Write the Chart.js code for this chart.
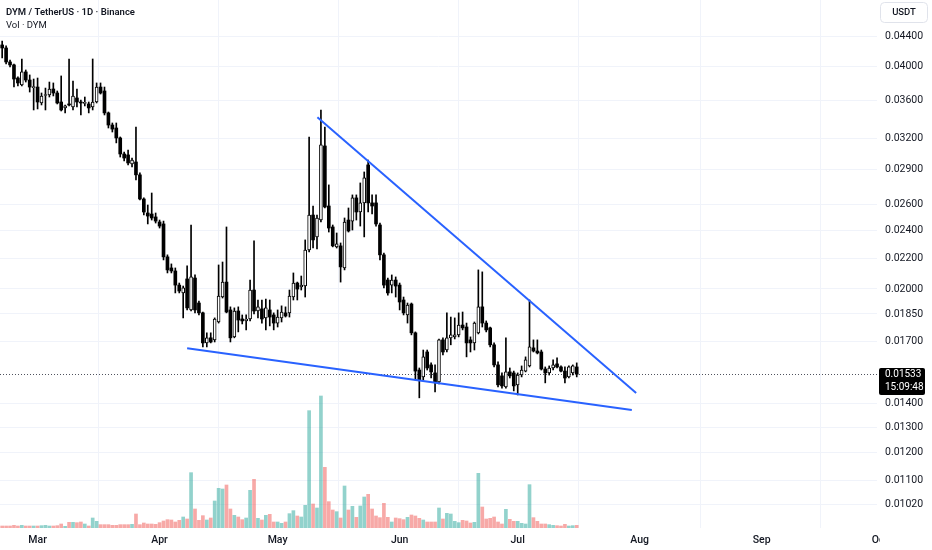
<!DOCTYPE html>
<html>
<head>
<meta charset="utf-8">
<script src="https://cdn.jsdelivr.net/npm/chart.js@4.4.1/dist/chart.umd.min.js"></script>
<style>
  html, body { margin: 0; padding: 0; background: #fff; }
  #wrap { width: 932px; height: 550px; position: relative; }
</style>
</head>
<body>
<div id="wrap"><canvas id="chart"></canvas></div>
<script>
// first candle = 20 Feb, counted in days after 1 Mar
const FIRST_DAY = -9;

const opens = [
  0.04279, 0.04239, 0.04058, 0.04021, 0.03860, 0.03777, 0.03934, 0.03836, 0.03747, 0.03753,
  0.03571, 0.03655, 0.03661, 0.03730, 0.03684, 0.03582, 0.03516, 0.03560, 0.03527, 0.03627,
  0.03582, 0.03566, 0.03560, 0.03527, 0.03582, 0.03753, 0.03707, 0.03462, 0.03334, 0.03303,
  0.03202, 0.03046, 0.03037, 0.02953, 0.02971, 0.02854, 0.02647, 0.02534, 0.02526, 0.02503,
  0.02464, 0.02449, 0.02210, 0.02135, 0.02115, 0.02024, 0.01975, 0.02063, 0.01873, 0.02069,
  0.01914, 0.01856, 0.01690, 0.01717, 0.01706, 0.01804, 0.01950, 0.02043, 0.01873, 0.01722,
  0.01867, 0.01821, 0.01810, 0.01821, 0.01993, 0.01867, 0.01879, 0.01827, 0.01873, 0.01844,
  0.01798, 0.01827, 0.01856, 0.01856, 0.01950, 0.02037, 0.02012, 0.02018, 0.02258, 0.02518,
  0.02352, 0.02479, 0.03123, 0.02590, 0.02426, 0.02280, 0.02287, 0.02135, 0.02479, 0.02471,
  0.02656, 0.02542, 0.02615, 0.02944, 0.02615, 0.02615, 0.02441, 0.02224, 0.02056, 0.02024,
  0.02056, 0.02024, 0.01932, 0.01844, 0.01908, 0.01744, 0.01553, 0.01520, 0.01643, 0.01578,
  0.01539, 0.01497, 0.01706, 0.01653, 0.01717, 0.01722, 0.01733, 0.01787, 0.01776, 0.01706,
  0.01690, 0.01744, 0.01891, 0.01798, 0.01771, 0.01680, 0.01578, 0.01525, 0.01473, 0.01544,
  0.01539, 0.01483, 0.01529, 0.01548, 0.01573, 0.01664, 0.01648, 0.01643, 0.01558, 0.01539,
  0.01563, 0.01583, 0.01568, 0.01548, 0.01520, 0.01539, 0.01568
];
const highs = [
  0.04332, 0.04266, 0.04083, 0.04033, 0.03873, 0.04096, 0.03958, 0.03897, 0.03848, 0.03860,
  0.03684, 0.03741, 0.03812, 0.03801, 0.03707, 0.03885, 0.03549, 0.04096, 0.03824, 0.03730,
  0.03604, 0.03638, 0.03582, 0.04096, 0.03801, 0.03801, 0.03753, 0.03472, 0.03355, 0.03355,
  0.03212, 0.03065, 0.03084, 0.03008, 0.03313, 0.02871, 0.02656, 0.02598, 0.02697, 0.02534,
  0.02479, 0.02471, 0.02224, 0.02162, 0.02135, 0.02037, 0.02018, 0.02149, 0.02441, 0.02089,
  0.01926, 0.01861, 0.01744, 0.01744, 0.01827, 0.02155, 0.02175, 0.02426, 0.01891, 0.01885,
  0.01891, 0.01844, 0.01844, 0.02056, 0.02323, 0.01932, 0.01932, 0.01938, 0.01932, 0.01856,
  0.01873, 0.01897, 0.01891, 0.01993, 0.02102, 0.02043, 0.02082, 0.02330, 0.03212, 0.02590,
  0.02518, 0.03494, 0.03313, 0.02766, 0.02441, 0.02381, 0.02308, 0.02495, 0.02574, 0.02681,
  0.02681, 0.02783, 0.02880, 0.02989, 0.02681, 0.02681, 0.02456, 0.02237, 0.02069, 0.02089,
  0.02076, 0.02037, 0.01950, 0.01914, 0.01914, 0.01749, 0.01563, 0.01653, 0.01653, 0.01588,
  0.01578, 0.01711, 0.01717, 0.01856, 0.01832, 0.01827, 0.01856, 0.01861, 0.01798, 0.01722,
  0.01804, 0.02122, 0.02109, 0.01810, 0.01776, 0.01690, 0.01593, 0.01539, 0.01717, 0.01563,
  0.01548, 0.01539, 0.01573, 0.01618, 0.01932, 0.01706, 0.01706, 0.01653, 0.01568, 0.01573,
  0.01603, 0.01613, 0.01573, 0.01568, 0.01573, 0.01578, 0.01588
];
const lows = [
  0.04109, 0.04033, 0.03996, 0.03753, 0.03765, 0.03765, 0.03812, 0.03695, 0.03494, 0.03505,
  0.03549, 0.03494, 0.03638, 0.03650, 0.03560, 0.03483, 0.03462, 0.03538, 0.03494, 0.03527,
  0.03440, 0.03538, 0.03462, 0.03494, 0.03571, 0.03672, 0.03440, 0.03303, 0.03262, 0.03153,
  0.03017, 0.02980, 0.02944, 0.02925, 0.02809, 0.02639, 0.02518, 0.02449, 0.02479, 0.02456,
  0.02418, 0.02189, 0.02102, 0.02102, 0.01975, 0.01975, 0.01827, 0.01873, 0.01867, 0.01856,
  0.01844, 0.01669, 0.01669, 0.01690, 0.01695, 0.01798, 0.01944, 0.01856, 0.01695, 0.01717,
  0.01749, 0.01793, 0.01760, 0.01810, 0.01850, 0.01827, 0.01798, 0.01760, 0.01782, 0.01760,
  0.01776, 0.01804, 0.01832, 0.01832, 0.01932, 0.01932, 0.01993, 0.01950, 0.02244, 0.02272,
  0.02265, 0.02464, 0.02574, 0.02388, 0.02280, 0.02272, 0.02043, 0.02122, 0.02388, 0.02403,
  0.02479, 0.02433, 0.02352, 0.02542, 0.02526, 0.02433, 0.02189, 0.02006, 0.01962, 0.01975,
  0.01950, 0.01873, 0.01844, 0.01798, 0.01733, 0.01506, 0.01424, 0.01506, 0.01553, 0.01515,
  0.01450, 0.01487, 0.01628, 0.01643, 0.01680, 0.01711, 0.01722, 0.01760, 0.01618, 0.01643,
  0.01653, 0.01738, 0.01776, 0.01749, 0.01669, 0.01568, 0.01473, 0.01468, 0.01468, 0.01515,
  0.01455, 0.01437, 0.01520, 0.01544, 0.01568, 0.01643, 0.01633, 0.01553, 0.01492, 0.01529,
  0.01553, 0.01563, 0.01544, 0.01492, 0.01515, 0.01529, 0.01520
];
const closes = [
  0.04239, 0.04058, 0.04021, 0.03848, 0.03801, 0.03934, 0.03836, 0.03753, 0.03753, 0.03582,
  0.03650, 0.03667, 0.03730, 0.03684, 0.03571, 0.03494, 0.03538, 0.03549, 0.03650, 0.03582,
  0.03571, 0.03577, 0.03516, 0.03582, 0.03753, 0.03684, 0.03462, 0.03334, 0.03292, 0.03202,
  0.03046, 0.03008, 0.02962, 0.02989, 0.02854, 0.02647, 0.02542, 0.02510, 0.02495, 0.02471,
  0.02433, 0.02210, 0.02122, 0.02115, 0.02024, 0.01987, 0.02006, 0.01885, 0.02076, 0.01873,
  0.01856, 0.01690, 0.01717, 0.01695, 0.01821, 0.01956, 0.02043, 0.01861, 0.01717, 0.01867,
  0.01815, 0.01810, 0.01821, 0.01993, 0.01867, 0.01891, 0.01821, 0.01885, 0.01832, 0.01798,
  0.01832, 0.01861, 0.01838, 0.01956, 0.02037, 0.01999, 0.02024, 0.02258, 0.02518, 0.02330,
  0.02495, 0.03133, 0.02582, 0.02418, 0.02287, 0.02301, 0.02142, 0.02464, 0.02396, 0.02656,
  0.02542, 0.02615, 0.02827, 0.02615, 0.02590, 0.02449, 0.02224, 0.02024, 0.01975, 0.02056,
  0.02018, 0.01920, 0.01856, 0.01902, 0.01744, 0.01548, 0.01506, 0.01618, 0.01563, 0.01544,
  0.01497, 0.01706, 0.01643, 0.01717, 0.01733, 0.01733, 0.01787, 0.01771, 0.01690, 0.01690,
  0.01798, 0.01891, 0.01798, 0.01760, 0.01680, 0.01578, 0.01483, 0.01478, 0.01544, 0.01525,
  0.01478, 0.01529, 0.01553, 0.01603, 0.01669, 0.01648, 0.01638, 0.01558, 0.01539, 0.01563,
  0.01578, 0.01568, 0.01548, 0.01515, 0.01568, 0.01573, 0.01533
];
// volume in arbitrary units (read as bar heights)
const volumes = [
  6, 6, 6, 8, 6, 8, 6, 6, 6, 6, 7, 8, 6, 6, 7, 12, 5, 17, 17, 16,
  18, 12, 6, 30, 20, 10, 10, 10, 8, 8, 10, 10, 10, 11, 42, 10, 15, 12, 12, 11,
  16, 21, 25, 24, 18, 23, 33, 27, 166, 57, 23, 37, 24, 30, 81, 119, 117, 129, 57, 38,
  33, 25, 30, 113, 146, 29, 24, 38, 41, 18, 18, 14, 18, 43, 52, 36, 33, 68, 352, 72,
  60, 396, 182, 79, 54, 49, 30, 126, 54, 65, 32, 66, 93, 101, 57, 36, 31, 74, 32, 18,
  30, 28, 25, 32, 39, 36, 29, 24, 18, 18, 18, 60, 27, 44, 42, 20, 16, 23, 21, 15,
  17, 164, 63, 27, 29, 33, 18, 12, 56, 26, 20, 20, 14, 12, 130, 31, 20, 12, 12, 10,
  8, 7, 6, 11, 6, 7, 8
];

const monthStarts = [0, 31, 61, 92, 122, 153, 184, 214];
const monthLabels = ['Mar', 'Apr', 'May', 'Jun', 'Jul', 'Aug', 'Sep', 'Oct'];
const priceTicks = [0.044, 0.040, 0.036, 0.032, 0.029, 0.026, 0.024, 0.022, 0.020,
                    0.0185, 0.017, 0.014, 0.013, 0.012, 0.011, 0.0102];

// trend lines: [day, price] end points
const upperTrend = [[71.1, 0.03415], [152.1, 0.01446]];
const lowerTrend = [[38.0, 0.01662], [151.0, 0.01371]];

const lastTime = '15:09:48';

// visible window
const X_MIN = -9.55, X_MAX = 213.3;
const Y_MIN = 0.00949, Y_MAX = 0.04923;
const VOL_MAX = 1584;

const FONT = 'Roboto, "Open Sans", sans-serif';
Chart.defaults.font.family = FONT;

const isUp = i => closes[i] >= opens[i];
const dayOf = i => FIRST_DAY + i;

const wickData = highs.map((h, i) => ({ x: dayOf(i), y: [lows[i], h] }));
const bodyData = opens.map((o, i) => ({ x: dayOf(i), y: [Math.min(o, closes[i]), Math.max(o, closes[i])] }));
const volData = volumes.map((v, i) => ({ x: dayOf(i), y: v }));

const headerPlugin = {
  id: 'header',
  beforeDatasetsDraw(chart) {
    const { ctx, chartArea, scales } = chart;
    const y = scales.y.getPixelForValue(closes[closes.length - 1]);
    ctx.save();
    ctx.strokeStyle = '#50535e';
    ctx.lineWidth = 1;
    ctx.setLineDash([1, 2]);
    ctx.beginPath();
    ctx.moveTo(chartArea.left, Math.round(y) + 0.5);
    ctx.lineTo(chartArea.right, Math.round(y) + 0.5);
    ctx.stroke();
    ctx.restore();
  },
  afterDraw(chart) {
    const { ctx, chartArea, scales } = chart;
    ctx.save();
    // title
    ctx.fillStyle = '#131722';
    ctx.textBaseline = 'middle';
    ctx.textAlign = 'left';
    ctx.font = '600 9.5px ' + FONT;
    ctx.fillText('DYM / TetherUS · 1D · Binance', 6, 13);
    ctx.font = '9.5px ' + FONT;
    ctx.fillText('Vol · DYM', 6, 26);

    // month labels (clipped at the price axis)
    ctx.save();
    ctx.beginPath();
    ctx.rect(0, chartArea.bottom, 880, 30);
    ctx.clip();
    ctx.font = '500 10.5px ' + FONT;
    ctx.textAlign = 'center';
    monthStarts.forEach((d, i) => {
      ctx.fillText(monthLabels[i], scales.x.getPixelForValue(d), 540);
    });
    ctx.restore();

    // USDT box
    ctx.strokeStyle = '#e0e3eb';
    ctx.lineWidth = 1;
    ctx.beginPath();
    ctx.roundRect(880.5, 2.5, 47, 20, 4);
    ctx.stroke();
    ctx.fillStyle = '#131722';
    ctx.font = '500 9.5px ' + FONT;
    ctx.textAlign = 'center';
    ctx.fillText('USDT', 904, 13);

    // last price label
    const last = closes[closes.length - 1];
    const py = Math.round(scales.y.getPixelForValue(last));
    ctx.fillStyle = '#000000';
    ctx.beginPath();
    ctx.roundRect(879, py - 6, 46, 27, 2);
    ctx.fill();
    ctx.fillStyle = '#ffffff';
    ctx.textAlign = 'left';
    ctx.font = '10px ' + FONT;
    ctx.fillText(last.toFixed(5), 885, py);
    ctx.fillText(lastTime, 885, py + 13);
    ctx.restore();
  }
};

new Chart(document.getElementById('chart'), {
  type: 'bar',
  data: {
    datasets: [
      {
        type: 'line',
        data: upperTrend.map(p => ({ x: p[0], y: p[1] })),
        borderColor: '#2962ff',
        borderWidth: 2,
        pointRadius: 0,
        yAxisID: 'y',
        order: 0
      },
      {
        type: 'line',
        data: lowerTrend.map(p => ({ x: p[0], y: p[1] })),
        borderColor: '#2962ff',
        borderWidth: 2,
        pointRadius: 0,
        yAxisID: 'y',
        order: 0
      },
      {
        data: bodyData,
        yAxisID: 'y',
        backgroundColor: opens.map((o, i) => isUp(i) ? '#ffffff' : '#000000'),
        borderColor: '#000000',
        borderWidth: opens.map((o, i) => isUp(i) ? 1 : 0),
        borderSkipped: false,
        barThickness: 3,
        minBarLength: 1,
        grouped: false,
        order: 1
      },
      {
        data: wickData,
        yAxisID: 'y',
        backgroundColor: '#000000',
        barThickness: 1,
        grouped: false,
        order: 2
      },
      {
        data: volData,
        yAxisID: 'yv',
        backgroundColor: volumes.map((v, i) => isUp(i) ? 'rgba(38,166,154,0.5)' : 'rgba(239,83,80,0.5)'),
        barThickness: 3,
        grouped: false,
        order: 3
      }
    ]
  },
  options: {
    responsive: true,
    maintainAspectRatio: false,
    animation: false,
    layout: { padding: 0 },
    plugins: {
      legend: { display: false },
      tooltip: { enabled: false }
    },
    scales: {
      x: {
        type: 'linear',
        min: X_MIN,
        max: X_MAX,
        offset: false,
        afterBuildTicks: s => { s.ticks = monthStarts.map(v => ({ value: v })); },
        ticks: { display: false },
        grid: { color: '#f0f3fa', drawTicks: false },
        border: { display: false },
        afterFit: s => { s.height = 22; s.paddingLeft = 0; s.paddingRight = 0; }
      },
      y: {
        type: 'logarithmic',
        position: 'right',
        min: Y_MIN,
        max: Y_MAX,
        afterBuildTicks: s => { s.ticks = priceTicks.map(v => ({ value: v })); },
        ticks: {
          autoSkip: false,
          padding: 8,
          color: '#131722',
          font: { size: 10.5 },
          callback: v => Number(v).toFixed(5)
        },
        grid: { color: '#f0f3fa', drawTicks: false },
        border: { display: false },
        afterFit: s => { s.width = 55; s.paddingTop = 0; s.paddingBottom = 0; }
      },
      yv: {
        type: 'linear',
        display: false,
        min: 0,
        max: VOL_MAX
      }
    }
  },
  plugins: [headerPlugin]
});
</script>
</body>
</html>
